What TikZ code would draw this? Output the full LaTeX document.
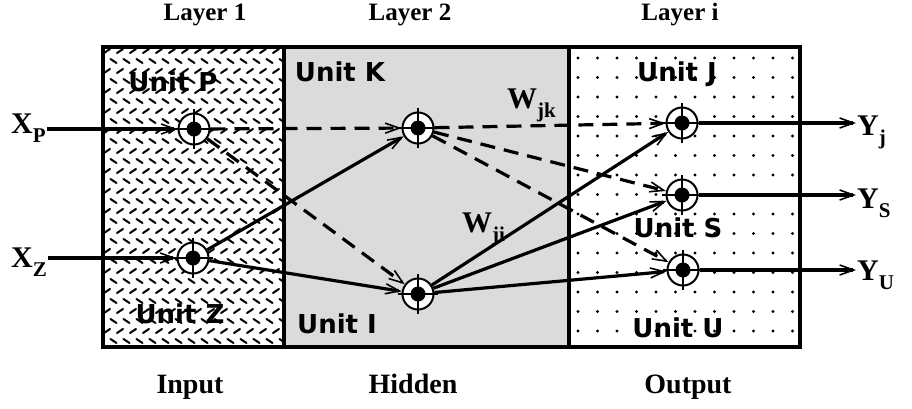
\documentclass[tikz,border=0pt]{standalone}
\usepackage{fontspec}
\setmainfont{Liberation Serif}
\newfontfamily\unitfont{DejaVu Sans}
\usetikzlibrary{arrows.meta}

\newcommand{\sbs}[1]{\raisebox{-0.32em}{\fontsize{21}{21}\selectfont #1}}

\tikzset{
  unit/.style={circle, draw, line width=2pt, fill=white, minimum size=31pt, inner sep=0pt},
  unitlab/.style={font=\unitfont\bfseries\fontsize{26}{26}\selectfont, inner sep=0pt},
  layerlab/.style={font=\bfseries\fontsize{25}{25}\selectfont, inner sep=0pt, anchor=base},
  footlab/.style={font=\bfseries\fontsize{28}{28}\selectfont, inner sep=0pt, anchor=base},
  sig/.style={font=\bfseries\fontsize{30}{30}\selectfont, inner sep=1pt, anchor=base west},
  arr/.style={line width=3.2pt, -{Straight Barb[length=14pt,width=10pt,line width=1.6pt]}},
  dsh/.style={dash pattern=on 15pt off 9pt},
  frame/.style={line width=3.2pt}
}

\begin{document}
\begin{tikzpicture}[x=1pt,y=-1pt]
\useasboundingbox (0,0) rectangle (912,408);

% input layer: diamond-plate texture
\fill[white] (103,47) rectangle (284,347);
\begin{scope}
  \clip (103,47) rectangle (284,347);
  \foreach \r in {0,...,30}{
    \pgfmathsetmacro\yy{51+10*\r}
    \pgfmathsetmacro\off{mod(\r,2)*6.5}
    \pgfmathsetmacro\sl{ifthenelse(mod(\r,2)==0,1,-1)}
    \foreach \c in {0,...,14}{
      \draw[line width=2pt, line cap=round] ({104+\off+13*\c},{\yy+2*\sl}) -- ++(6,{-4*\sl});
    }
  }
\end{scope}

% hidden layer: grey
\fill[black!14] (284,47) rectangle (569,347);

% output layer: dot grid
\fill[white] (569,47) rectangle (800,347);
\foreach \r in {0,...,14}{
  \foreach \c in {0,...,11}{
    \fill ({578+19.5*\c},{58+19.5*\r}) circle (1.6);
  }
}

% frame and dividers
\draw[frame] (103,47) rectangle (800,347);
\draw[frame] (284,47) -- (284,347);
\draw[frame] (569,47) -- (569,347);

% layer titles
\node[layerlab] (l1) at (205,20) {Layer 1};
\node[layerlab] (l2) at (410,20) {Layer 2};
\node[layerlab] (li) at (680,20) {Layer i};
\node[footlab] (tin) at (190,393) {Input};
\node[footlab] (thid) at (413,393) {Hidden};
\node[footlab] (tout) at (688,393) {Output};

% unit names
\node[unitlab] (nP) at (173,82) {Unit P};
\node[unitlab] (nK) at (340,72) {Unit K};
\node[unitlab] (nJ) at (677,74) {Unit J};
\node[unitlab] (nS) at (678,228) {Unit S};
\node[unitlab] (nU) at (678,328) {Unit U};
\node[unitlab] (nZ) at (180,314) {Unit Z};
\node[unitlab] (nI) at (337,324) {Unit I};

% units
\node[unit] (P) at (194,129) {};
\node[unit] (Z) at (193,258) {};
\node[unit] (K) at (418,128) {};
\node[unit] (I) at (418,294) {};
\node[unit] (J) at (682,123) {};
\node[unit] (S) at (682,195) {};
\node[unit] (U) at (683,270) {};
\foreach \n in {P,Z,K,I,J,S,U}{
  \fill (\n.center) circle (7.5);
  \draw[line width=1.4pt] (\n.center) ++(-20,0) -- ++(40,0);
  \draw[line width=1.4pt] (\n.center) ++(0,-20) -- ++(0,40);
}

% signals
\node[sig] (xp) at (10,133) {X\sbs{P}};
\node[sig] (xz) at (10,267) {X\sbs{Z}};
\node[sig] (yj) at (856,135) {Y\sbs{j}};
\node[sig] (ys) at (856,208) {Y\sbs{S}};
\node[sig] (yu) at (856,280) {Y\sbs{U}};

% weights
\node[sig] (wjk) at (506,108) {W\sbs{jk}};
\node[sig] (wji) at (461,232) {W\sbs{ji}};

% connections
\draw[arr] (xp.east |- P) -- (P);
\draw[arr] (xz.east |- Z) -- (Z);
\draw[arr,dsh] (P) -- (K);
\draw[arr,dsh] (P) -- (I);
\draw[arr] (Z) -- (K);
\draw[arr] (Z) -- (I);
\draw[arr,dsh] (K) -- (J);
\draw[arr,dsh] (K) -- (S);
\draw[arr,dsh] (K) -- (U);
\draw[arr] (I) -- (J);
\draw[arr] (I) -- (S);
\draw[arr] (I) -- (U);
\draw[arr] (J) -- (yj.west |- J);
\draw[arr] (S) -- (ys.west |- S);
\draw[arr] (U) -- (yu.west |- U);
\end{tikzpicture}
\end{document}
